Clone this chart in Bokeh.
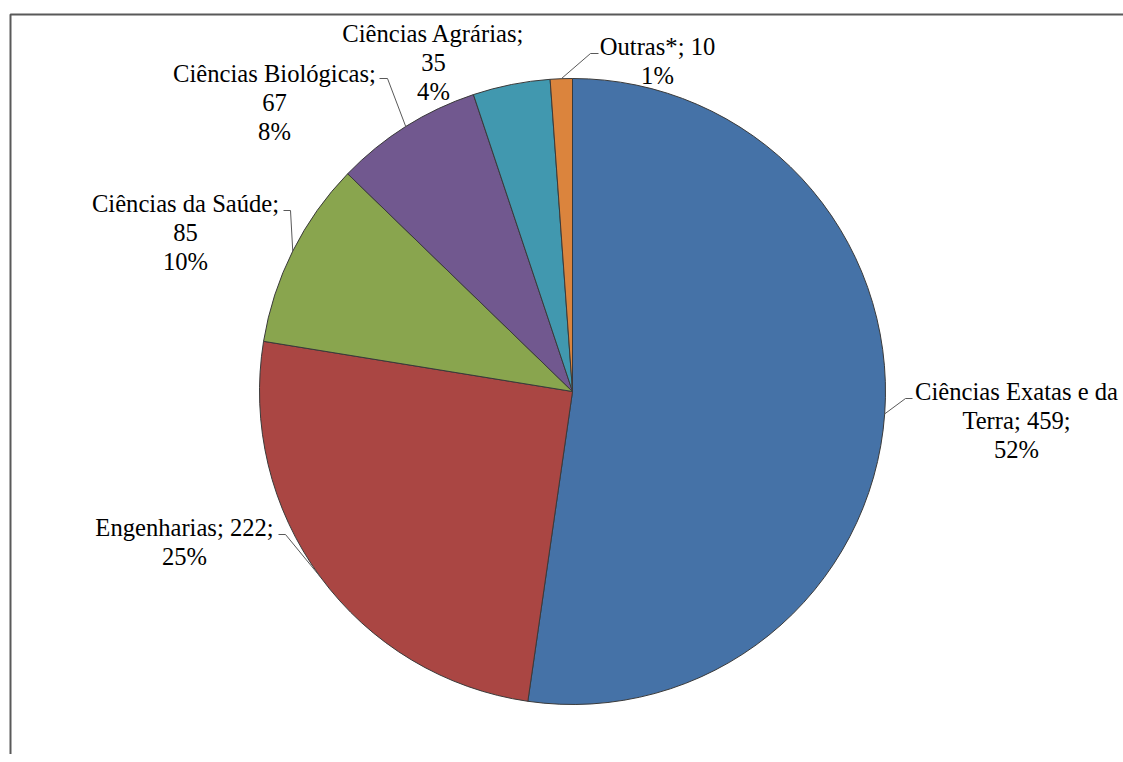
import math
from bokeh.plotting import figure
from bokeh.models import Range1d
from bokeh.core.properties import value
from bokeh.embed import file_html
from bokeh.resources import INLINE

# ---- data ----
categories = ["Ciências Exatas e da Terra", "Engenharias", "Ciências da Saúde",
              "Ciências Biológicas", "Ciências Agrárias", "Outras*"]
counts = [459, 222, 85, 67, 35, 10]
colors = ["#4572A7", "#AA4643", "#89A54E", "#71588F", "#4198AF", "#DB843D"]
# label line layouts ({n}=name, {v}=value, {p}=percent)
label_templates = [
    ["Ciências Exatas e da", "Terra; {v};", "{p}%"],
    ["{n}; {v};", "{p}%"],
    ["{n};", "{v}", "{p}%"],
    ["{n};", "{v}", "{p}%"],
    ["{n};", "{v}", "{p}%"],
    ["{n}; {v}", "{p}%"],
]

# ---- layout (screen pixel coordinates) ----
W, H = 1123, 754
def Y(ys):
    return H - ys

cx, cy, r = 572, Y(391), 313
label_x = [1016, 184, 185, 274, 433, 657]
label_y0 = [391, 527, 203, 73, 33, 46]
line_step = 29
# leader: (text end x, elbow x, y) or None
leaders = [(912, 905, 398), (278, 285, 534), (283, 290, 210),
           (379, 387, 78), None, (598, 590, 53)]

p = figure(width=W, height=H, output_backend="svg", toolbar_location=None,
           x_range=Range1d(0, W), y_range=Range1d(0, H),
           x_axis_location=None, y_axis_location=None, min_border=0)
p.grid.visible = False
p.outline_line_color = None
p.background_fill_color = "white"
p.border_fill_color = "white"

# frame (top and left edges; right/bottom run off the page)
p.quad(left=[10], right=[W + 40], top=[Y(14)], bottom=[-40],
       fill_color=None, line_color="#595959", line_width=2)

total = sum(counts)
cum = 0.0
starts, ends, mids = [], [], []
for c in counts:
    f0 = cum / total
    cum += c
    f1 = cum / total
    # clockwise from 12 o'clock
    starts.append(math.pi / 2 - 2 * math.pi * f1)
    ends.append(math.pi / 2 - 2 * math.pi * f0)
    mids.append(math.pi / 2 - 2 * math.pi * (f0 + f1) / 2)

p.wedge(x=[cx] * len(counts), y=[cy] * len(counts), radius=r,
        start_angle=starts, end_angle=ends, direction="anticlock",
        fill_color=colors, line_color="#3a3a3a", line_width=1)

# leaders
for i, ld in enumerate(leaders):
    if ld is None:
        continue
    tx, ex, ly = ld
    px = cx + r * math.cos(mids[i])
    py = cy + r * math.sin(mids[i])
    p.line(x=[tx, ex, px], y=[Y(ly), Y(ly), py], line_color="#595959", line_width=1)

# labels
tx_all, ty_all, tt_all = [], [], []
for i, name in enumerate(categories):
    pct = round(counts[i] / total * 100)
    for k, tpl in enumerate(label_templates[i]):
        tt_all.append(tpl.format(n=name, v=counts[i], p=pct))
        tx_all.append(label_x[i])
        ty_all.append(Y(label_y0[i] + k * line_step))

p.text(x=tx_all, y=ty_all, text=tt_all,
       text_font=value("'Liberation Serif', 'Times New Roman', serif"),
       text_font_size="24.6px", text_align="center", text_baseline="middle",
       text_color="#000000")

open("out.html", "w").write(file_html(p, INLINE))
